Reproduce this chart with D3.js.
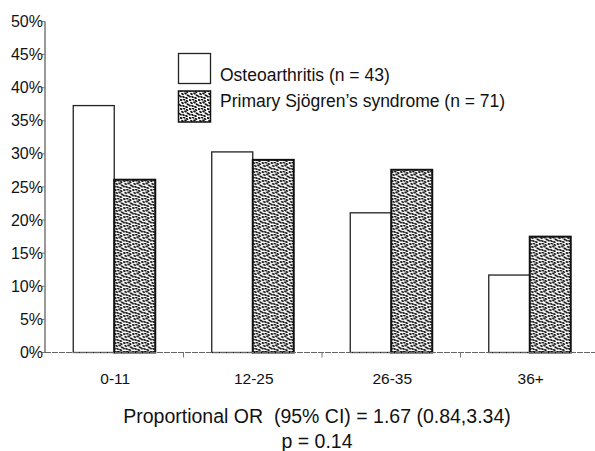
<!DOCTYPE html>
<html>
<head>
<meta charset="utf-8">
<script src="https://cdn.jsdelivr.net/npm/d3@7"></script>
<style>
  body { margin: 0; background: #fff; }
  svg { display: block; font-family: "Liberation Sans", Arial, sans-serif; }
</style>
</head>
<body>
<svg id="chart" width="595" height="451"></svg>
<script>
const categories = ["0-11", "12-25", "26-35", "36+"];
const seriesNames = ["Osteoarthritis (n = 43)", "Primary Sjögren’s syndrome (n = 71)"];
const osteoarthritis = [37.3, 30.3, 21.1, 11.7];
const sjogren = [26.1, 29.1, 27.6, 17.5];
const yTicks = [0, 5, 10, 15, 20, 25, 30, 35, 40, 45, 50];
const footnote = ["Proportional OR  (95% CI) = 1.67 (0.84,3.34)", "p = 0.14"];

const svg = d3.select("#chart");
const defs = svg.append("defs");

// stipple pattern used for the Sjögren bars
const pat = defs.append("pattern").attr("id", "stipple").attr("patternUnits", "userSpaceOnUse")
  .attr("width", 9).attr("height", 9);
pat.append("rect").attr("width", 9).attr("height", 9).attr("fill", "#fff");
[[1,1],[4,0.5],[7,2],[2.5,4],[5.5,3.5],[8,5.5],[0.5,6.5],[3.5,7],[6.5,8]].forEach(([cx, cy]) => {
  pat.append("ellipse").attr("cx", cx).attr("cy", cy).attr("rx", 1.5).attr("ry", 1)
    .attr("transform", `rotate(35 ${cx} ${cy})`).attr("fill", "#111");
});

const x = d3.scaleBand().domain(categories).range([45, 599]);
const y = d3.scaleLinear().domain([0, 50]).range([352.5, 21.5]);
const barW = 41;
const xSub = d3.scaleBand().domain([0, 1]).range([-barW, barW]);

// y axis
svg.append("line").attr("x1", 45).attr("x2", 45).attr("y1", y(50)).attr("y2", y(0))
  .attr("stroke", "#555").attr("stroke-width", 1.2);
svg.selectAll(".ytick").data(yTicks).enter().append("line")
  .attr("x1", 42).attr("x2", 45).attr("y1", d => y(d)).attr("y2", d => y(d))
  .attr("stroke", "#777").attr("stroke-width", 1);
svg.selectAll(".ylab").data(yTicks).enter().append("text")
  .attr("x", 43).attr("y", d => y(d) + 5.5).attr("text-anchor", "end")
  .attr("font-size", 16).attr("fill", "#111").text(d => d + "%");

// bars
const groups = svg.selectAll(".grp").data(categories).enter().append("g")
  .attr("transform", d => `translate(${x(d) + x.bandwidth() / 2},0)`);
groups.append("rect")
  .attr("x", xSub(0)).attr("width", barW)
  .attr("y", (d, i) => y(osteoarthritis[i])).attr("height", (d, i) => y(0) - y(osteoarthritis[i]))
  .attr("fill", "#fff").attr("stroke", "#222").attr("stroke-width", 1.3);
groups.append("rect")
  .attr("x", xSub(1)).attr("width", barW)
  .attr("y", (d, i) => y(sjogren[i])).attr("height", (d, i) => y(0) - y(sjogren[i]))
  .attr("fill", "url(#stipple)").attr("stroke", "#111").attr("stroke-width", 2);

// x axis baseline and ticks
svg.append("line").attr("x1", 45).attr("x2", 595).attr("y1", y(0)).attr("y2", y(0))
  .attr("stroke", "#666").attr("stroke-width", 1.2).attr("stroke-dasharray", "6,1");
svg.selectAll(".xtick").data(categories.slice(1)).enter().append("line")
  .attr("x1", d => x(d)).attr("x2", d => x(d)).attr("y1", y(0)).attr("y2", y(0) + 5)
  .attr("stroke", "#777").attr("stroke-width", 1);
svg.selectAll(".xlab").data(categories).enter().append("text")
  .attr("x", d => x(d) + x.bandwidth() / 2 + 1).attr("y", 383.5).attr("text-anchor", "middle")
  .attr("font-size", 15.5).attr("fill", "#111").text(d => d);

// legend
const legend = svg.append("g");
legend.append("rect").attr("x", 178.5).attr("y", 53.5).attr("width", 32).attr("height", 30)
  .attr("fill", "#fff").attr("stroke", "#222").attr("stroke-width", 1.3);
legend.append("rect").attr("x", 178.5).attr("y", 91).attr("width", 32).attr("height", 31)
  .attr("fill", "url(#stipple)").attr("stroke", "#111").attr("stroke-width", 1.5);
legend.selectAll("text").data(seriesNames).enter().append("text")
  .attr("x", 220).attr("y", (d, i) => i === 0 ? 80.5 : 107)
  .attr("font-size", 17.5).attr("fill", "#111").text(d => d);

// footnote
svg.selectAll(".foot").data(footnote).enter().append("text")
  .attr("x", 317).attr("y", (d, i) => i === 0 ? 423 : 447.5).attr("text-anchor", "middle")
  .attr("font-size", 19.5).attr("fill", "#111").attr("xml:space", "preserve")
  .style("white-space", "pre").text(d => d);
</script>
</body>
</html>
